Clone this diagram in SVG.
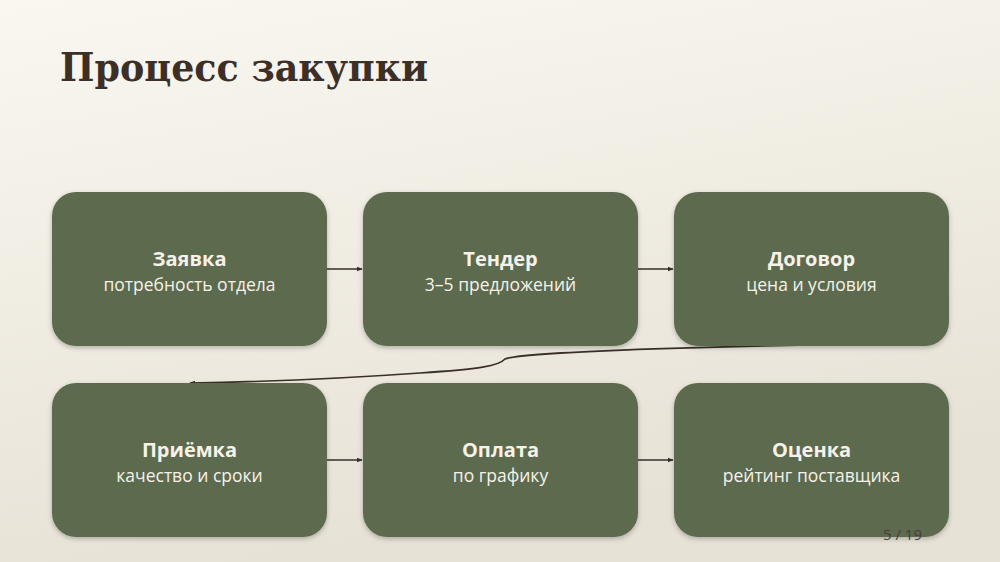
<svg xmlns="http://www.w3.org/2000/svg" width="1000" height="562" viewBox="0 0 1000 562">
<defs>
<linearGradient id="bg" x1="0" y1="0" x2="0.3" y2="1">
<stop offset="0" stop-color="#f9f7f0"/>
<stop offset="1" stop-color="#e7e2d6"/>
</linearGradient>
<filter id="sh" x="-10%" y="-10%" width="120%" height="130%">
<feDropShadow dx="0" dy="2" stdDeviation="2.5" flood-color="#000" flood-opacity="0.25"/>
</filter>
<marker id="ah" viewBox="0 0 10 10" refX="9" refY="5" markerWidth="6" markerHeight="6" orient="auto-start-reverse" markerUnits="userSpaceOnUse">
<path d="M0,1 L10,5 L0,9 z" fill="#3a2e28"/>
</marker>
<style>
.box{fill:#5c6b4d;filter:url(#sh)}
.t{font-family:"Open Sans","Noto Sans",sans-serif;font-weight:bold;font-size:20px;fill:#f6f2ea;text-anchor:middle}
.s{font-family:"Open Sans","Noto Sans",sans-serif;font-size:17.5px;fill:#f6f2ea;text-anchor:middle}
.c{fill:none;stroke:#3a2e28;stroke-width:1.6}
</style>
</defs>
<rect width="1000" height="562" fill="url(#bg)"/>
<text x="60" y="81" font-family="'DejaVu Serif','Liberation Serif',serif" font-weight="bold" font-size="40" fill="#3b2f28" textLength="368" lengthAdjust="spacingAndGlyphs">Процесс закупки</text>
<g id="connectors">
<path class="c" d="M327,269 L362,269" marker-end="url(#ah)"/>
<path class="c" d="M638,269 L673,269" marker-end="url(#ah)"/>
<path class="c" d="M810,345 C700,347 520,352 505,359 C499,366 480,369 420,373 C350,378 250,382 190,383" marker-end="url(#ah)"/>
<path class="c" d="M327,460 L362,460" marker-end="url(#ah)"/>
<path class="c" d="M638,460 L673,460" marker-end="url(#ah)"/>
</g>
<g id="n1"><rect class="box" x="52" y="192" width="275" height="154" rx="24"/><text class="t" x="189.5" y="266">Заявка</text><text class="s" x="189.5" y="291">потребность отдела</text></g>
<g id="n2"><rect class="box" x="363" y="192" width="275" height="154" rx="24"/><text class="t" x="500.5" y="266">Тендер</text><text class="s" x="500.5" y="291">3–5 предложений</text></g>
<g id="n3"><rect class="box" x="674" y="192" width="275" height="154" rx="24"/><text class="t" x="811.5" y="266">Договор</text><text class="s" x="811.5" y="291">цена и условия</text></g>
<g id="n4"><rect class="box" x="52" y="383" width="275" height="154" rx="24"/><text class="t" x="189.5" y="457">Приёмка</text><text class="s" x="189.5" y="482">качество и сроки</text></g>
<g id="n5"><rect class="box" x="363" y="383" width="275" height="154" rx="24"/><text class="t" x="500.5" y="457">Оплата</text><text class="s" x="500.5" y="482">по графику</text></g>
<g id="n6"><rect class="box" x="674" y="383" width="275" height="154" rx="24"/><text class="t" x="811.5" y="457">Оценка</text><text class="s" x="811.5" y="482">рейтинг поставщика</text></g>
<text x="922" y="540" font-family="'Open Sans','Noto Sans',sans-serif" font-size="15" fill="#463f37" text-anchor="end">5 / 19</text>
</svg>
